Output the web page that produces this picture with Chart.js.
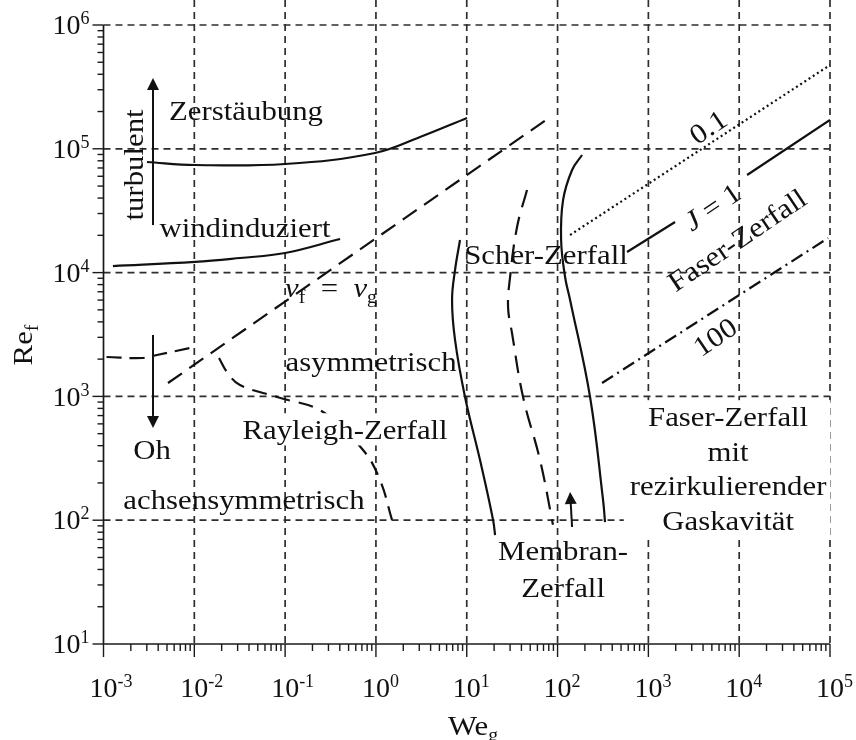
<!DOCTYPE html>
<html>
<head>
<meta charset="utf-8">
<script src="https://cdn.jsdelivr.net/npm/chart.js"></script>
<style>
  html, body { margin: 0; padding: 0; background: #fff; }
  canvas { display: block; }
</style>
</head>
<body>
<canvas id="regimeChart" width="856" height="740"></canvas>
<script>
// Axis decades and tick labels
const xDecades = [1e-3, 1e-2, 1e-1, 1e0, 1e1, 1e2, 1e3, 1e4, 1e5];
const xExponents = ['-3', '-2', '-1', '0', '1', '2', '3', '4', '5'];
const yDecades = [1e1, 1e2, 1e3, 1e4, 1e5, 1e6];
const yExponents = ['1', '2', '3', '4', '5', '6'];
const minorSteps = [2, 3, 4, 5, 6, 7, 8, 9];

// Regime boundaries (We_g, Re_f)
const zerstX = [0.00301, 0.0102, 0.0998, 0.977, 3.06, 10.07];
const zerstY = [78200, 74000, 75400, 92500, 124500, 177400];
const windX = [0.00127, 0.0102, 0.0318, 0.0998, 0.403];
const windY = [11300, 12190, 13120, 14390, 18670];
const vfX = [0.00513, 74.6];
const vfY = [1283, 171000];
const ohX = [0.00108, 0.00272, 0.00388, 0.00897];
const ohY = [2080, 2042, 2160, 2460];
const rayX = [0.0187, 0.0229, 0.0318, 0.0815, 0.261, 0.721, 1.109, 1.503];
const rayY = [2042, 1574, 1236, 989, 748, 369, 211, 100.5];
const scherX = [8.43, 7.43, 6.89, 7.43, 9.57, 14.0, 19.5, 20.5];
const scherY = [18340, 10490, 6010, 2856, 989, 306, 100.5, 75.9];
const membranX = [46.1, 35.8, 30.0, 28.5, 31.5, 41.7, 64.1, 89];
const membranY = [46500, 23350, 9210, 5270, 3250, 989, 306, 92];
const faserX = [186, 144.5, 115, 109.4, 121, 137.4, 228, 317, 333];
const faserY = [89100, 67400, 38550, 18340, 9210, 6010, 989, 145.6, 96.6];
// J lines
const j01X = [137.4, 100000];
const j01Y = [20130, 475000];
const j1X = [582, 1968, 5000, 12220, 100000];
const j1Y = [14660, 25640, null, 61400, 171000];
const j100X = [309, 95300];
const j100Y = [1283, 19010];

// Arrows [from, to]
const turbulentArrow = [[0.00351, 24210], [0.00351, 373000]];
const ohArrow = [[0.00351, 3133], [0.00351, 556]];
const membranArrow = [[144.5, 88.1], [137.4, 169]];

// Region labels: parts are [text, style]
const regionLabels = [
  { parts: [['Zerstäubung', '']], x: 0.0371, y: 201800 },
  { parts: [['turbulent', '']], x: 0.00217, y: 74000, angle: -90 },
  { parts: [['windinduziert', '']], x: 0.0361, y: 22900 },
  { parts: [['v', 'i'], ['f', 'sub'], ['  =  ', ''], ['v', 'i'], ['g', 'sub']], x: 0.32, y: 7510 },
  { parts: [['asymmetrisch', '']], x: 0.883, y: 1897 },
  { parts: [['Rayleigh-Zerfall', '']], x: 0.457, y: 535, bg: true },
  { parts: [['Oh', '']], x: 0.00342, y: 369 },
  { parts: [['achsensymmetrisch', '']], x: 0.0352, y: 145.6 },
  { parts: [['Scher-Zerfall', '']], x: 74.6, y: 13870 },
  { parts: [['0.1', '']], x: 4540, y: 150000, angle: -34 },
  { parts: [['J', 'i'], [' = ', ''], ['1', '']], x: 5035, y: 33900, angle: -34 },
  { parts: [['Faser-Zerfall', '']], x: 9480, y: 18340, angle: -34 },
  { parts: [['100', '']], x: 5420, y: 3020, angle: -34 },
  { parts: [['Membran-', '']], x: 115, y: 56.4 },
  { parts: [['Zerfall', '']], x: 115, y: 28.6 }
];
const faserBlock = ['Faser-Zerfall', 'mit', 'rezirkulierender', 'Gaskavität'];
const faserBlockX = 7550;
const faserBlockY = [682, 359, 189, 99.5];

const pts = (xs, ys) => xs.map((x, i) => ({ x: x, y: ys[i] }));
const INK = '#111';
const FONT = '"Liberation Serif", "Times New Roman", serif';
const SIZE = 28;

function fontFor(p, size) {
  const small = p[1] === 'sub' || p[1] === 'sup';
  return (p[1] === 'i' ? 'italic ' : '') + Math.round(small ? size * 0.66 : size) + 'px ' + FONT;
}

function richWidth(ctx, parts, size) {
  let w = 0;
  parts.forEach(p => { ctx.font = fontFor(p, size); w += ctx.measureText(p[0]).width; });
  return w;
}

// x, y is the middle of the capitals; align: center | right | first
function drawRich(ctx, parts, x, y, o) {
  o = o || {};
  const size = o.size || SIZE;
  const sx = o.sx || 1.1;
  const w = richWidth(ctx, parts, size);
  let start = -w / 2;
  if (o.align === 'right') start = -w;
  if (o.align === 'first') {
    ctx.font = fontFor(parts[0], size);
    start = -ctx.measureText(parts[0][0]).width / 2;
  }
  ctx.save();
  ctx.translate(x, y);
  ctx.rotate((o.angle || 0) * Math.PI / 180);
  ctx.scale(sx, 1);
  if (o.bg) {
    ctx.fillStyle = '#fff';
    ctx.fillRect(start - 3, -0.6 * size, w + 6, 1.15 * size);
  }
  ctx.fillStyle = INK;
  ctx.textBaseline = 'alphabetic';
  ctx.textAlign = 'left';
  const base = 0.33 * size;
  let cx = start;
  parts.forEach(p => {
    ctx.font = fontFor(p, size);
    let dy = base;
    if (p[1] === 'sub') dy += 0.2 * size;
    if (p[1] === 'sup') dy -= 0.36 * size;
    ctx.fillText(p[0], cx, dy);
    cx += ctx.measureText(p[0]).width;
  });
  ctx.restore();
}

function seg(ctx, x1, y1, x2, y2) {
  ctx.beginPath();
  ctx.moveTo(x1, y1);
  ctx.lineTo(x2, y2);
  ctx.stroke();
}

function arrow(ctx, x1, y1, x2, y2) {
  const a = Math.atan2(y2 - y1, x2 - x1);
  const len = 12, half = 6;
  const bx = x2 - len * Math.cos(a), by = y2 - len * Math.sin(a);
  ctx.strokeStyle = INK;
  ctx.fillStyle = INK;
  ctx.lineWidth = 2;
  seg(ctx, x1, y1, bx, by);
  ctx.beginPath();
  ctx.moveTo(x2, y2);
  ctx.lineTo(bx + half * Math.sin(a), by - half * Math.cos(a));
  ctx.lineTo(bx - half * Math.sin(a), by + half * Math.cos(a));
  ctx.closePath();
  ctx.fill();
}

const decor = {
  id: 'decor',
  beforeDatasetsDraw(chart) {
    const { ctx, chartArea: a } = chart;
    const xs = chart.scales.x, ys = chart.scales.y;
    ctx.save();
    // dashed grid at the decades
    ctx.strokeStyle = '#2e2e2e';
    ctx.lineWidth = 1.7;
    ctx.setLineDash([7, 5]);
    xDecades.slice(1).forEach(d => {
      const px = xs.getPixelForValue(d);
      seg(ctx, px, 0, px, a.bottom);
    });
    yDecades.slice(1).forEach(d => {
      const py = ys.getPixelForValue(d);
      seg(ctx, a.left, py, a.right, py);
    });
    ctx.setLineDash([]);
    // axes
    ctx.strokeStyle = '#1a1a1a';
    ctx.lineWidth = 1.7;
    seg(ctx, a.left, a.top, a.left, a.bottom);
    seg(ctx, a.left, a.bottom, a.right, a.bottom);
    ctx.lineWidth = 1.4;
    xDecades.forEach((d, i) => {
      const px = xs.getPixelForValue(d);
      seg(ctx, px, a.bottom, px, a.bottom + 13);
      if (i < xDecades.length - 1) {
        minorSteps.forEach(m => {
          const p = xs.getPixelForValue(d * m);
          seg(ctx, p, a.bottom, p, a.bottom + 7);
        });
      }
    });
    yDecades.forEach((d, i) => {
      const py = ys.getPixelForValue(d);
      seg(ctx, a.left - 11, py, a.left, py);
      if (i < yDecades.length - 1) {
        minorSteps.forEach(m => {
          const p = ys.getPixelForValue(d * m);
          seg(ctx, a.left - 6, p, a.left, p);
        });
      }
    });
    ctx.restore();
  },
  afterDatasetsDraw(chart) {
    const { ctx, chartArea: a } = chart;
    const xs = chart.scales.x, ys = chart.scales.y;
    const X = v => xs.getPixelForValue(v), Y = v => ys.getPixelForValue(v);
    ctx.save();

    // arrows
    [turbulentArrow, ohArrow, membranArrow].forEach(ar => {
      arrow(ctx, X(ar[0][0]), Y(ar[0][1]), X(ar[1][0]), Y(ar[1][1]));
    });

    // region labels
    regionLabels.forEach(l => {
      drawRich(ctx, l.parts, X(l.x), Y(l.y), { angle: l.angle, bg: l.bg });
    });

    // Faser-Zerfall block on a white box
    const bx = X(faserBlockX);
    let maxW = 0;
    faserBlock.forEach(t => { maxW = Math.max(maxW, richWidth(ctx, [[t, '']], SIZE) * 1.1); });
    const top = Y(faserBlockY[0]) - 0.6 * SIZE;
    const bottom = Y(faserBlockY[faserBlockY.length - 1]) + 0.55 * SIZE;
    ctx.fillStyle = '#fff';
    ctx.fillRect(bx - maxW / 2 - 6, top, maxW + 10, bottom - top);
    faserBlock.forEach((t, i) => drawRich(ctx, [[t, '']], bx, Y(faserBlockY[i])));

    // tick labels
    xDecades.forEach((d, i) => {
      drawRich(ctx, [['10', ''], [xExponents[i], 'sup']], X(d), 688, { sx: 1, align: 'first' });
    });
    yDecades.forEach((d, i) => {
      drawRich(ctx, [['10', ''], [yExponents[i], 'sup']], a.left - 14, Y(d), { sx: 1, align: 'right' });
    });

    // axis titles
    drawRich(ctx, [['We', ''], ['g', 'sub']], 473, 726);
    drawRich(ctx, [['Re', ''], ['f', 'sub']], 23, 345, { angle: -90 });
    ctx.restore();
  }
};

function curve(data, dash, tension) {
  return {
    data: data,
    borderColor: INK,
    borderWidth: 2.2,
    borderDash: dash,
    tension: tension,
    pointRadius: 0,
    fill: false,
    spanGaps: false
  };
}

new Chart(document.getElementById('regimeChart'), {
  type: 'line',
  data: {
    datasets: [
      curve(pts(zerstX, zerstY), [], 0.4),
      curve(pts(windX, windY), [], 0.4),
      curve(pts(vfX, vfY), [17, 9], 0),
      curve(pts(ohX, ohY), [15, 8], 0.4),
      curve(pts(rayX, rayY), [15, 9], 0.4),
      curve(pts(scherX, scherY), [], 0.4),
      curve(pts(membranX, membranY), [18, 10], 0.4),
      curve(pts(faserX, faserY), [], 0.4),
      curve(pts(j01X, j01Y), [2, 3], 0),
      curve(pts(j1X, j1Y), [], 0),
      curve(pts(j100X, j100Y), [13, 5, 2, 5], 0)
    ]
  },
  options: {
    responsive: false,
    animation: false,
    events: [],
    layout: { padding: { left: 0, right: 26, top: 25, bottom: 0 } },
    plugins: {
      legend: { display: false },
      tooltip: { enabled: false }
    },
    scales: {
      x: {
        type: 'logarithmic',
        min: 1e-3,
        max: 1e5,
        grid: { display: false },
        border: { display: false },
        ticks: { display: false },
        afterFit: s => { s.height = 96; }
      },
      y: {
        type: 'logarithmic',
        min: 10,
        max: 1e6,
        grid: { display: false },
        border: { display: false },
        ticks: { display: false },
        afterFit: s => { s.width = 103.5; }
      }
    }
  },
  plugins: [decor]
});
</script>
</body>
</html>
